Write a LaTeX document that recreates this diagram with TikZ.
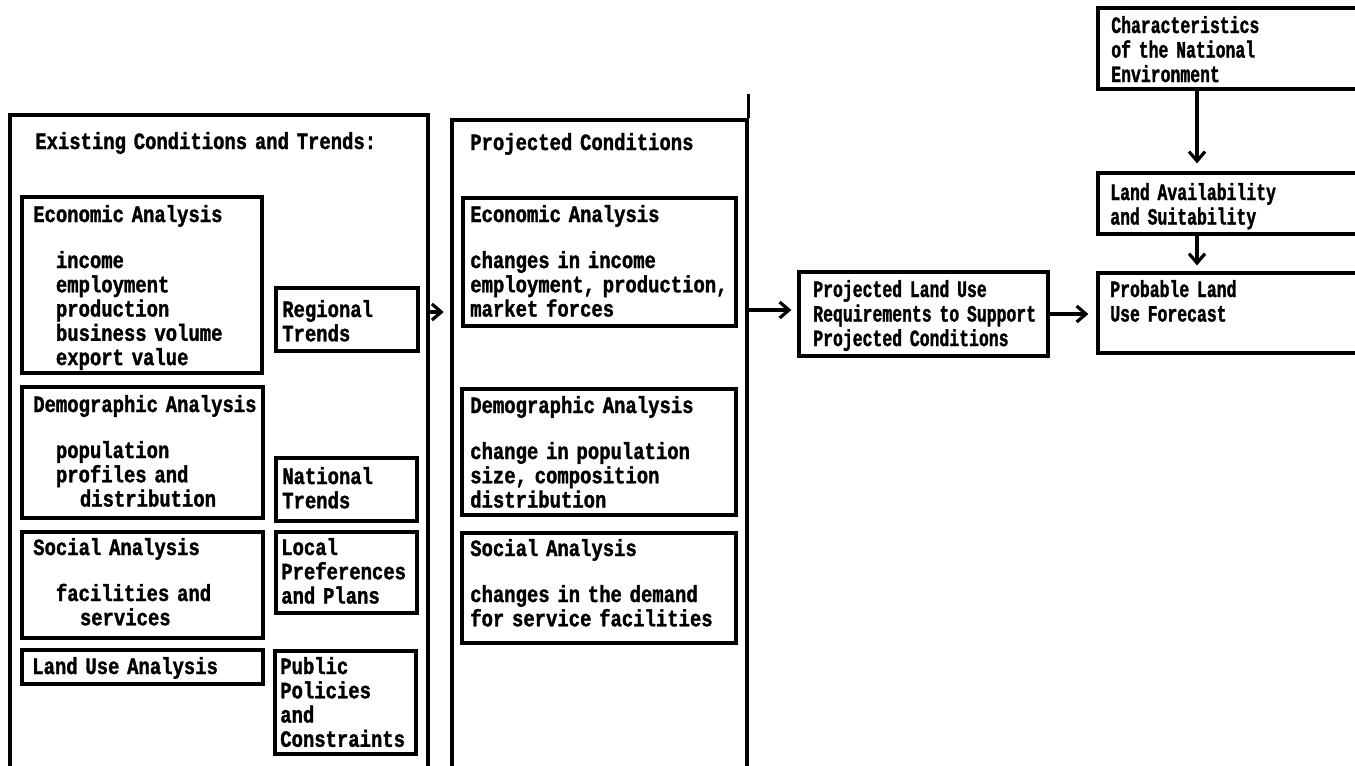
\documentclass[tikz,border=0pt]{standalone}
\usepackage{fontspec}
\newfontfamily\typefont{Liberation Mono}[FakeStretch=0.81, FakeBold=1.4]
\newfontfamily\typefontnarrow{Liberation Mono}[FakeStretch=0.705, FakeBold=1.4]
\usetikzlibrary{arrows.meta,fit}
\newcommand{\indA}{\hspace*{17pt}}
\newcommand{\indB}{\hspace*{35pt}}
% fixed-pitch word spaces, one character wide
\newcommand{\wideface}{\typefont\bfseries\fontsize{17.5}{18.2}\selectfont
  \fontdimen2\font=8.5pt\fontdimen3\font=0pt\fontdimen4\font=0pt\relax}
\newcommand{\narrowface}{\typefontnarrow\bfseries\fontsize{17.5}{18.4}\selectfont
  \fontdimen2\font=7.4pt\fontdimen3\font=0pt\fontdimen4\font=0pt\relax}
\tikzset{
  box/.style={draw, line width=2.4pt, inner sep=0pt},
  lbl/.style={anchor=base west, inner sep=0pt, align=left, text width=400pt,
    font=\wideface},
  lblr/.style={lbl, font=\narrowface},
  arr/.style={line width=2.4pt, -{Straight Barb[length=7pt,width=12pt]}},
}
\begin{document}
\begin{tikzpicture}[x=0.75pt,y=-0.75pt]
\useasboundingbox (0,0) rectangle (1355,765);

% --- existing conditions column ---
\node[box, fit={(10,115)(428,780)}] (exist) {};
\node[lbl] (tExist) at (35,149) {Existing Conditions and Trends:};

\node[box, fit={(22,197)(262,373)}] (ecoA) {};
\node[lbl] (tEcoA) at (33,222) {Economic Analysis\\[16.3pt]
  \indA income\\ \indA employment\\ \indA production\\
  \indA business volume\\ \indA export value};

\node[box, fit={(276,288)(418,351)}] (regT) {};
\node[lbl] (tRegT) at (282,317) {Regional\\Trends};

\node[box, fit={(22,387)(263,518)}] (demA) {};
\node[lbl] (tDemA) at (33,412) {Demographic Analysis\\[16.3pt]
  \indA population\\ \indA profiles and\\ \indB distribution};

\node[box, fit={(276,458)(417,521)}] (natT) {};
\node[lbl] (tNatT) at (282,484) {National\\Trends};

\node[box, fit={(22,532)(263,638)}] (socA) {};
\node[lbl] (tSocA) at (33,555) {Social Analysis\\[16.3pt]
  \indA facilities and\\ \indB services};

\node[box, fit={(276,532)(417,613)}] (locP) {};
\node[lbl] (tLocP) at (281,555) {Local\\Preferences\\and Plans};

\node[box, fit={(22,650)(263,684)}] (luA) {};
\node[lbl] (tLuA) at (32,674) {Land Use Analysis};

\node[box, fit={(275,651)(416,754)}] (pubP) {};
\node[lbl] (tPubP) at (280,674) {Public\\Policies\\and\\Constraints};

% --- projected conditions column ---
\node[box, fit={(452,120)(747,780)}] (proj) {};
\draw[line width=2.4pt] (proj.north east) -- ++(0,-24);
\node[lbl] (tProj) at (470,150) {Projected Conditions};

\node[box, fit={(463,198)(736,326)}] (ecoB) {};
\node[lbl] (tEcoB) at (470,222) {Economic Analysis\\[16.3pt]
  changes in income\\employment, production,\\market forces};

\node[box, fit={(462,389)(736,515)}] (demB) {};
\node[lbl] (tDemB) at (470,413) {Demographic Analysis\\[16.3pt]
  change in population\\size, composition\\distribution};

\node[box, fit={(462,533)(736,643)}] (socB) {};
\node[lbl] (tSocB) at (470,556) {Social Analysis\\[16.3pt]
  changes in the demand\\for service facilities};

% --- land use forecast chain ---
\node[box, fit={(799,272)(1048,356)}] (req) {};
\node[lblr] (tReq) at (813,297) {Projected Land Use\\Requirements to Support\\Projected Conditions};

\node[box, fit={(1098,8)(1375,89)}] (chr) {};
\node[lblr] (tChr) at (1111,33) {Characteristics\\of the National\\Environment};

\node[box, fit={(1098,173)(1375,234)}] (avl) {};
\node[lblr] (tAvl) at (1110,200) {Land Availability\\and Suitability};

\node[box, fit={(1098,273)(1375,353)}] (prb) {};
\node[lblr] (tPrb) at (1110,297) {Probable Land\\Use Forecast};

% --- connectors ---
\coordinate (rowA) at (0,312);
\coordinate (rowB) at (0,310);
\coordinate (colC) at (1197,0);
\draw[arr, shorten >=5pt] (exist.east |- rowA) -- (proj.west |- rowA);
\draw[arr, shorten >=4.5pt] (proj.east |- rowB) -- (req.west |- rowB);
\draw[arr, shorten >=6pt] (req.east) -- (prb.west |- req.east);
\draw[arr, shorten >=6pt] (chr.south -| colC) -- (avl.north -| colC);
\draw[arr, shorten >=4.5pt] (avl.south -| colC) -- (prb.north -| colC);
\end{tikzpicture}
\end{document}
